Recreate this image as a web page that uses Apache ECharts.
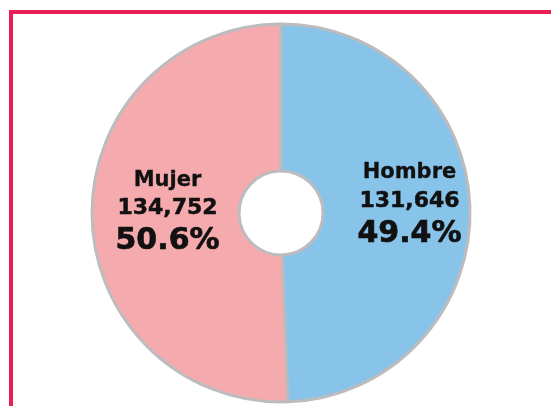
<!DOCTYPE html>
<html>
<head>
<meta charset="utf-8">
<style>html,body{margin:0;padding:0;background:#fff}#c{width:551px;height:406px}</style>
<script src="https://cdn.jsdelivr.net/npm/echarts@6/dist/echarts.min.js"></script>
</head>
<body>
<div id="c"></div>
<script>
var categories = ['Mujer', 'Hombre'];
var values = [134752, 131646];
var colors = ['#f5aaad', '#88c3e9'];

var chart = echarts.init(document.getElementById('c'), null, {renderer: 'canvas'});
var data = categories.map(function (n, i) {
  return {name: n, value: values[i], itemStyle: {color: colors[i]}};
});
var offsets = [[5, -2], [10, -5]];
var txt = {fontFamily: 'DejaVu Sans', fontWeight: 'bold', color: '#111', textBorderColor: '#111'};
chart.setOption({
  animation: false,
  backgroundColor: '#fff',
  graphic: [
    {type: 'rect', shape: {x: 9, y: 10, width: 542, height: 4}, style: {fill: '#ea1d55'}},
    {type: 'rect', shape: {x: 9, y: 10, width: 4, height: 396}, style: {fill: '#ea1d55'}}
  ],
  series: [{
    type: 'pie',
    center: [281, 213],
    radius: [42, 189],
    startAngle: 90,
    clockwise: false,
    percentPrecision: 1,
    itemStyle: {borderColor: '#bcbcbe', borderWidth: 3},
    label: {
      position: 'inside',
      formatter: function (p) {
        return '{a|' + p.name + '}\n{b|' + p.value.toLocaleString('en-US') + '}\n{c|' + p.percent.toFixed(1) + '%}';
      },
      rich: {
        a: Object.assign({fontSize: 21, lineHeight: 28, textBorderWidth: 0.3}, txt),
        b: Object.assign({fontSize: 22, lineHeight: 29, textBorderWidth: 0.5}, txt),
        c: Object.assign({fontSize: 30, lineHeight: 37, textBorderWidth: 0.7}, txt)
      }
    },
    labelLayout: function (p) {
      var o = offsets[p.dataIndex];
      return {dx: o[0], dy: o[1]};
    },
    labelLine: {show: false},
    emphasis: {disabled: true},
    data: data
  }]
});
</script>
</body>
</html>
